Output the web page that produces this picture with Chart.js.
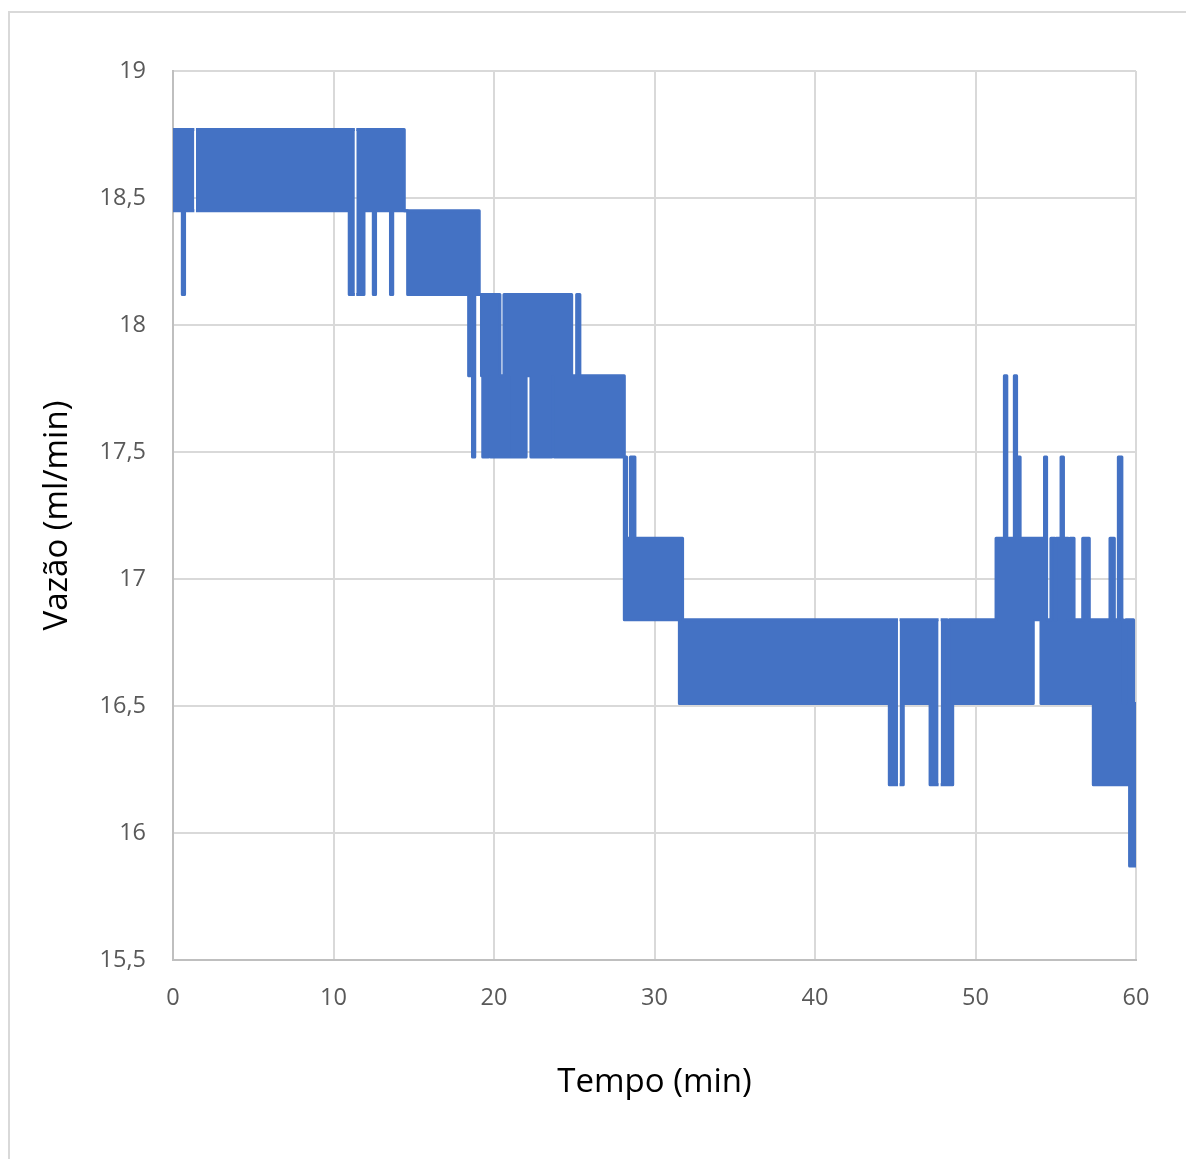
<!DOCTYPE html>
<html>
<head>
<meta charset="utf-8">
<title>Vazão x Tempo</title>
<script src="https://cdn.jsdelivr.net/npm/chart.js@4.4.0/dist/chart.umd.min.js"></script>
<style>
  html, body { margin: 0; padding: 0; background: #fff; overflow: hidden; }
  #frame { position: absolute; left: 8px; top: 11px; width: 1400px; height: 1400px;
           border-left: 2px solid #d9d9d9; border-top: 2px solid #d9d9d9; }
  #wrap { position: absolute; left: 0; top: 0; width: 1186px; height: 1159px; }
</style>
</head>
<body>
<div id="frame"></div>
<div id="wrap"><canvas id="flowChart" width="1186" height="1159"></canvas></div>
<script>
// flow readings oscillate between two discrete levels; each row is one stretch
// of the record: start/end time (min) and the upper/lower level reached there
const segStart = [
  0, 0.58, 0.72, 1.43, 10.98, 11.42, 11.9, 12.48, 12.62, 13.55, 13.69, 14.41,
  14.62, 18.42, 18.56, 18.66, 18.8, 19.08, 19.22, 19.3, 19.65, 19.79, 20.37, 20.62,
  20.89, 21.0, 22.0, 22.3, 23.6, 23.76, 24.84, 25.15, 25.35, 28.12, 28.26, 28.5,
  28.78, 31.55, 31.75, 44.63, 45.27, 45.5, 47.17, 47.83, 48.25, 48.37, 48.58, 51.28,
  51.8, 51.95, 52.42, 52.56, 52.78, 53.6, 54.08, 54.3, 54.43, 54.7, 54.95, 55.02,
  55.33, 55.48, 55.78, 55.89, 56.14, 56.68, 57.09, 57.34, 58.38, 58.65, 58.9, 59.12,
  59.21, 59.36, 59.6, 59.85
];
const segEnd = [
  0.58, 0.72, 1.33, 10.98, 11.33, 11.9, 12.48, 12.62, 13.55, 13.69, 14.41, 14.62,
  18.42, 18.56, 18.66, 18.8, 19.08, 19.22, 19.3, 19.65, 19.79, 20.37, 20.62, 20.89,
  21.0, 22.0, 22.3, 23.6, 23.76, 24.84, 25.15, 25.35, 28.12, 28.26, 28.5, 28.78,
  31.55, 31.75, 44.63, 45.17, 45.5, 47.17, 47.7, 48.25, 48.37, 48.58, 51.28, 51.8,
  51.95, 52.42, 52.56, 52.78, 53.6, 54.08, 54.3, 54.43, 54.7, 54.95, 55.02, 55.33,
  55.48, 55.78, 55.89, 56.14, 56.68, 57.09, 57.34, 58.38, 58.65, 58.9, 59.12, 59.21,
  59.36, 59.6, 59.85, 60
];
const segTop = [
  18.77, 18.77, 18.77, 18.77, 18.77, 18.77, 18.77, 18.77, 18.77, 18.77, 18.77, 18.45,
  18.45, 18.45, 18.45, 18.45, 18.45, 18.12, 18.12, 18.12, 18.12, 18.12, 17.80, 18.12,
  18.12, 18.12, 18.12, 18.12, 18.12, 18.12, 17.80, 18.12, 17.80, 17.48, 17.16, 17.48,
  17.16, 17.16, 16.84, 16.84, 16.84, 16.84, 16.84, 16.84, 16.51, 16.84, 16.84, 17.16,
  17.80, 17.16, 17.80, 17.48, 17.16, 17.16, 17.16, 17.48, 16.84, 17.16, 16.84, 17.16,
  17.48, 17.16, 16.84, 17.16, 16.84, 17.16, 16.84, 16.84, 17.16, 16.84, 17.48, 16.84,
  16.51, 16.84, 16.84, 16.51
];
const segBottom = [
  18.45, 18.12, 18.45, 18.45, 18.12, 18.12, 18.45, 18.12, 18.45, 18.12, 18.45, 18.45,
  18.12, 17.80, 18.12, 17.48, 18.12, 18.12, 17.80, 17.48, 17.80, 17.48, 17.48, 17.48,
  17.80, 17.48, 17.80, 17.48, 17.80, 17.48, 17.48, 17.48, 17.48, 16.84, 16.84, 16.84,
  16.84, 16.51, 16.51, 16.19, 16.19, 16.51, 16.19, 16.19, 16.19, 16.19, 16.51, 16.51,
  16.51, 16.51, 16.51, 16.51, 16.51, 16.84, 16.51, 16.51, 16.51, 16.51, 16.51, 16.51,
  16.51, 16.51, 16.51, 16.51, 16.51, 16.51, 16.51, 16.19, 16.19, 16.19, 16.19, 16.19,
  16.19, 16.19, 15.87, 15.87
];

const xTicks = [0, 10, 20, 30, 40, 50, 60];
const yTicks = [15.5, 16, 16.5, 17, 17.5, 18, 18.5, 19];
const yTickLabels = ['15,5', '16', '16,5', '17', '17,5', '18', '18,5', '19'];

// step outline of one envelope, with a break wherever the record has a blank stretch
function envelope(levels) {
  const pts = [];
  segStart.forEach((t0, i) => {
    if (i > 0 && t0 > segEnd[i - 1]) pts.push({ x: t0, y: null });
    pts.push({ x: t0, y: levels[i] }, { x: segEnd[i], y: levels[i] });
  });
  return pts;
}

const blue = '#4472C4';
const tickFont = { family: "'Open Sans', sans-serif", size: 23.5 };
const titleFont = { family: "'Open Sans', sans-serif", size: 33 };

new Chart(document.getElementById('flowChart'), {
  type: 'line',
  data: {
    datasets: [
      {
        label: 'top',
        data: envelope(segTop),
        borderColor: blue,
        backgroundColor: blue,
        borderWidth: 3,
        borderJoinStyle: 'round',
        fill: '+1',
        pointRadius: 0,
        spanGaps: false
      },
      {
        label: 'bottom',
        data: envelope(segBottom),
        borderColor: blue,
        backgroundColor: blue,
        borderWidth: 3,
        borderJoinStyle: 'round',
        fill: false,
        pointRadius: 0,
        spanGaps: false
      }
    ]
  },
  options: {
    responsive: false,
    animation: false,
    layout: { padding: { top: 71, right: 50, bottom: 0, left: 0 } },
    plugins: {
      legend: { display: false },
      tooltip: { enabled: false }
    },
    scales: {
      x: {
        type: 'linear',
        min: 0,
        max: 60,
        afterBuildTicks: s => { s.ticks = xTicks.map(v => ({ value: v })); },
        afterFit: s => { s.height = 199; },
        ticks: { color: '#595959', font: tickFont, padding: 24, maxRotation: 0, autoSkip: false },
        grid: { color: '#d9d9d9', lineWidth: 2, drawTicks: false },
        border: { color: '#bfbfbf', width: 2 },
        title: {
          display: true,
          text: 'Tempo (min)',
          color: '#000',
          font: titleFont,
          padding: { top: 0, bottom: 57 }
        }
      },
      y: {
        min: 15.5,
        max: 19,
        afterBuildTicks: s => { s.ticks = yTicks.map(v => ({ value: v })); },
        afterFit: s => { s.width = 173; },
        ticks: {
          color: '#595959',
          font: tickFont,
          padding: 27,
          callback: v => yTickLabels[yTicks.indexOf(v)]
        },
        grid: { color: '#d9d9d9', lineWidth: 2, drawTicks: false },
        border: { color: '#bfbfbf', width: 2 },
        title: {
          display: true,
          text: 'Vazão (ml/min)',
          color: '#000',
          font: titleFont,
          padding: { top: 38, bottom: 0 }
        }
      }
    }
  }
});
</script>
</body>
</html>
